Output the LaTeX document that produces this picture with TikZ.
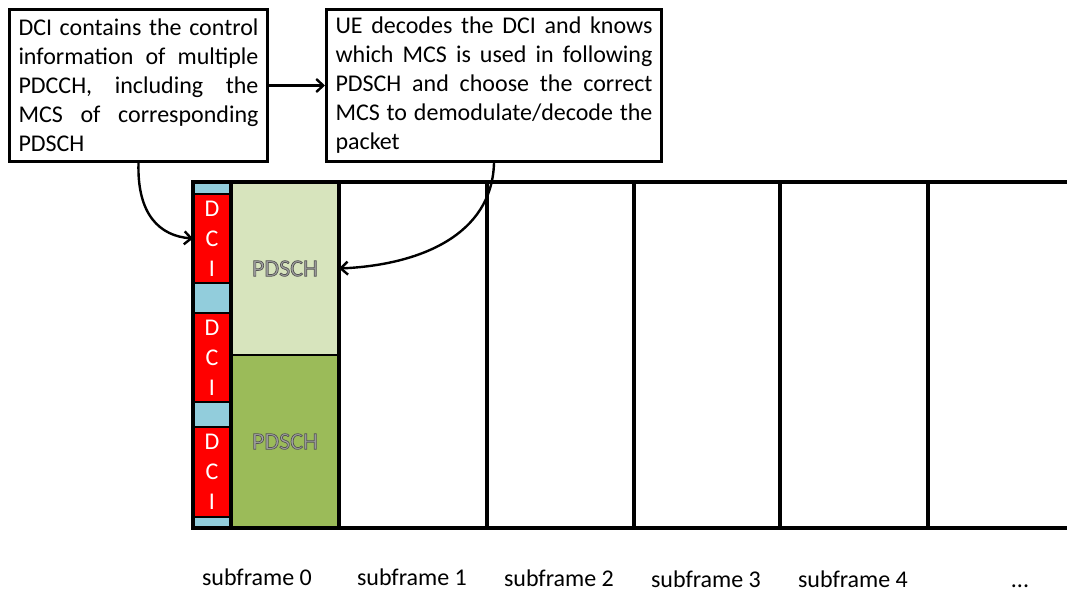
\documentclass[tikz,border=0pt]{standalone}
\usepackage{fontspec}
\setmainfont{Carlito}
\usetikzlibrary{arrows.meta}
\definecolor{ctrlblue}{HTML}{92CDDC}
\definecolor{dcired}{HTML}{FF0000}
\definecolor{pdschlight}{HTML}{D7E4BD}
\definecolor{pdschdark}{HTML}{9BBB59}
\definecolor{pdschtext}{HTML}{A3A3A3}
\newcommand\notefont{\fontsize{24}{29}\selectfont\hyphenpenalty=10000 \exhyphenpenalty=10000 }
\newcommand\bigfont{\fontsize{24}{29}\selectfont}
\newcommand\dcifont{\fontsize{24}{30}\selectfont}
% outlined label: grey fill with a darker stroke round the glyphs
\newcommand\outlined[1]{\special{pdf:code 2 Tr 0.7 w 0.33 0.33 0.33 RG}#1\special{pdf:code 0 Tr 0 0 0 RG 0.4 w}}
\begin{document}
\begin{tikzpicture}[x=1pt,y=-1pt,
  note/.style={draw=black,line width=3pt,rectangle,anchor=north west,
    inner xsep=9pt,inner ysep=0pt,minimum height=152pt,align=justify,
    font=\notefont},
  cell/.style={rectangle,anchor=north west,inner sep=0pt,outer sep=0pt,
    draw=black,line width=2pt},
  ctrl/.style={cell,fill=ctrlblue,minimum width=38pt},
  dci/.style={cell,fill=dcired,minimum width=38pt,text=white,align=center,
    font=\dcifont},
  pdsch/.style={cell,minimum width=108pt,minimum height=173pt,text=pdschtext,
    font=\bigfont},
  frame/.style={line width=3.2pt,line cap=rect},
  link/.style={line width=2.4pt,-{Straight Barb[length=7pt,width=13pt,line width=2.4pt]}},
  sflabel/.style={font=\bigfont,inner sep=0pt,anchor=base}
]
\useasboundingbox (0,0) rectangle (1067,592);

% explanatory boxes
\node[note,text width=240pt] (info) at (8,8)
  {DCI contains the control\linebreak information of multiple\linebreak PDCCH, including the\linebreak MCS of corresponding\linebreak PDSCH\par\vspace{4pt}};
\node[note,text width=317pt] (ue) at (325,8)
  {UE decodes the DCI and knows\linebreak which MCS is used in following\linebreak PDSCH and choose the correct\linebreak MCS to demodulate/decode the\linebreak packet\par\vspace{4pt}};

% control region of subframe 0
\node[ctrl,minimum height=12pt] (c0) at (193,182) {};
\node[dci,minimum height=89pt] (dci1) at (193,194) {D\\C\\I};
\node[ctrl,minimum height=30pt] (c1) at (193,283) {};
\node[dci,minimum height=89pt] (dci2) at (193,313) {D\\C\\I};
\node[ctrl,minimum height=25pt] (c2) at (193,402) {};
\node[dci,minimum height=90pt] (dci3) at (193,427) {D\\C\\I};
\node[ctrl,minimum height=11pt] (c3) at (193,517) {};

% data region of subframe 0
\node[pdsch,fill=pdschlight] (p1) at (231,182) {\outlined{PDSCH}};
\node[pdsch,fill=pdschdark] (p2) at (231,355) {\outlined{PDSCH}};

% subframe grid
\draw[frame] (193,182) -- (1067,182);
\draw[frame] (193,528) -- (1067,528);
\foreach \x in {193,231,339,487,634,780,928}
  \draw[frame] (\x,182) -- (\x,528);

% subframe labels
\node[sflabel] (s0) at (257,585) {subframe 0};
\node[sflabel] (s1) at (412,585) {subframe 1};
\node[sflabel] (s2) at (559,586) {subframe 2};
\node[sflabel] (s3) at (706,587) {subframe 3};
\node[sflabel] (s4) at (853,587) {subframe 4};
\node[sflabel] (s5) at (1020,587) {...};

% connectors
\draw[link] (info.east) -- (ue.west);
\draw[link] (info.south) .. controls (137,215) and (160,236) .. (dci1.west);
\draw[link] (ue.south) .. controls (492,235) and (420,265) .. (p1.east);
\end{tikzpicture}
\end{document}
